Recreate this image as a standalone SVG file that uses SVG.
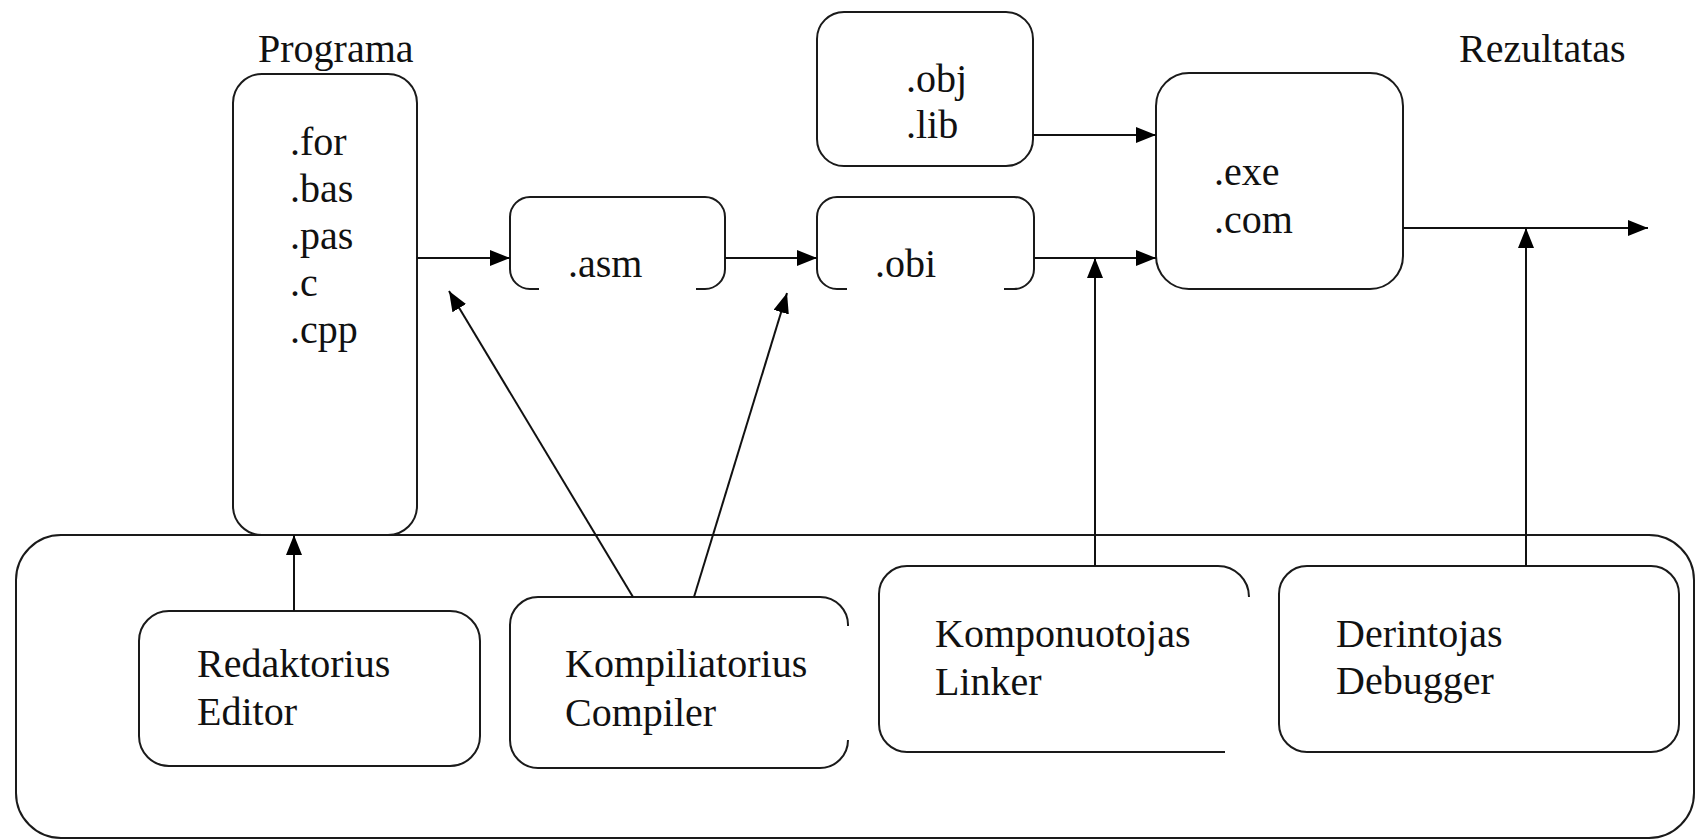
<svg xmlns="http://www.w3.org/2000/svg" width="1700" height="840" viewBox="0 0 1700 840">
<style>
.box{fill:none;stroke:#1a1a1a;stroke-width:2}
.ln{fill:none;stroke:#111;stroke-width:2}
text{font-family:'Liberation Serif','DejaVu Serif',serif;font-size:40px;fill:#111}
</style>
<defs>
<marker id="ah" viewBox="0 0 20 16" markerWidth="20" markerHeight="16" refX="20" refY="8" orient="auto" markerUnits="userSpaceOnUse">
<path d="M0,0 L20,8 L0,16 z" fill="#000"/>
</marker>
</defs>
<rect width="1700" height="840" fill="#fff"/>

<g id="tools-panel">
<rect class="box" x="16" y="535" width="1678" height="303" rx="45" ry="45"/>
</g>

<g id="programa">
<text x="258" y="62">Programa</text>
<rect class="box" x="233" y="74" width="184" height="461" rx="29" ry="29"/>
<text x="290" y="155">.for</text>
<text x="290" y="202">.bas</text>
<text x="290" y="249">.pas</text>
<text x="290" y="296">.c</text>
<text x="290" y="343">.cpp</text>
</g>

<g id="asm">
<path class="box" d="M539,289 H530 A20,20 0 0 1 510,269 V217 A20,20 0 0 1 530,197 H705 A20,20 0 0 1 725,217 V269 A20,20 0 0 1 705,289 H696"/>
<text x="568" y="277">.asm</text>
</g>

<g id="obi">
<path class="box" d="M847,289 H837 A20,20 0 0 1 817,269 V217 A20,20 0 0 1 837,197 H1014 A20,20 0 0 1 1034,217 V269 A20,20 0 0 1 1014,289 H1004"/>
<text x="875" y="277">.obi</text>
</g>

<g id="objlib">
<rect class="box" x="817" y="12" width="216" height="154" rx="27" ry="27"/>
<text x="906" y="92">.obj</text>
<text x="906" y="138">.lib</text>
</g>

<g id="exe">
<rect class="box" x="1156" y="73" width="247" height="216" rx="33" ry="33"/>
<text x="1214" y="185">.exe</text>
<text x="1214" y="233">.com</text>
<text x="1459" y="62">Rezultatas</text>
</g>

<g id="editor">
<rect class="box" x="139" y="611" width="341" height="155" rx="30" ry="30"/>
<text x="197" y="677">Redaktorius</text>
<text x="197" y="725">Editor</text>
</g>

<g id="compiler">
<path class="box" d="M848,626 A28,28 0 0 0 820,597 H538 A28,28 0 0 0 510,625 V740 A28,28 0 0 0 538,768 H820 A28,28 0 0 0 848,740"/>
<text x="565" y="677">Kompiliatorius</text>
<text x="565" y="726">Compiler</text>
</g>

<g id="linker">
<path class="box" d="M1249,597 A31,31 0 0 0 1218,566 H907 A28,28 0 0 0 879,594 V724 A28,28 0 0 0 907,752 H1225"/>
<text x="935" y="647">Komponuotojas</text>
<text x="935" y="695">Linker</text>
</g>

<g id="debugger">
<rect class="box" x="1279" y="566" width="400" height="186" rx="28" ry="28"/>
<text x="1336" y="647">Derintojas</text>
<text x="1336" y="694">Debugger</text>
</g>

<g id="connectors">
<line class="ln" x1="417" y1="258" x2="510" y2="258" marker-end="url(#ah)"/>
<line class="ln" x1="725" y1="258" x2="817" y2="258" marker-end="url(#ah)"/>
<line class="ln" x1="1034" y1="258" x2="1156" y2="258" marker-end="url(#ah)"/>
<line class="ln" x1="1033" y1="135" x2="1156" y2="135" marker-end="url(#ah)"/>
<line class="ln" x1="1403" y1="228" x2="1648" y2="228" marker-end="url(#ah)"/>
<line class="ln" x1="294" y1="611" x2="294" y2="535" marker-end="url(#ah)"/>
<line class="ln" x1="633" y1="597" x2="449" y2="291" marker-end="url(#ah)"/>
<line class="ln" x1="694" y1="597" x2="787" y2="293" marker-end="url(#ah)"/>
<line class="ln" x1="1095" y1="566" x2="1095" y2="258" marker-end="url(#ah)"/>
<line class="ln" x1="1526" y1="566" x2="1526" y2="228" marker-end="url(#ah)"/>
</g>
</svg>
